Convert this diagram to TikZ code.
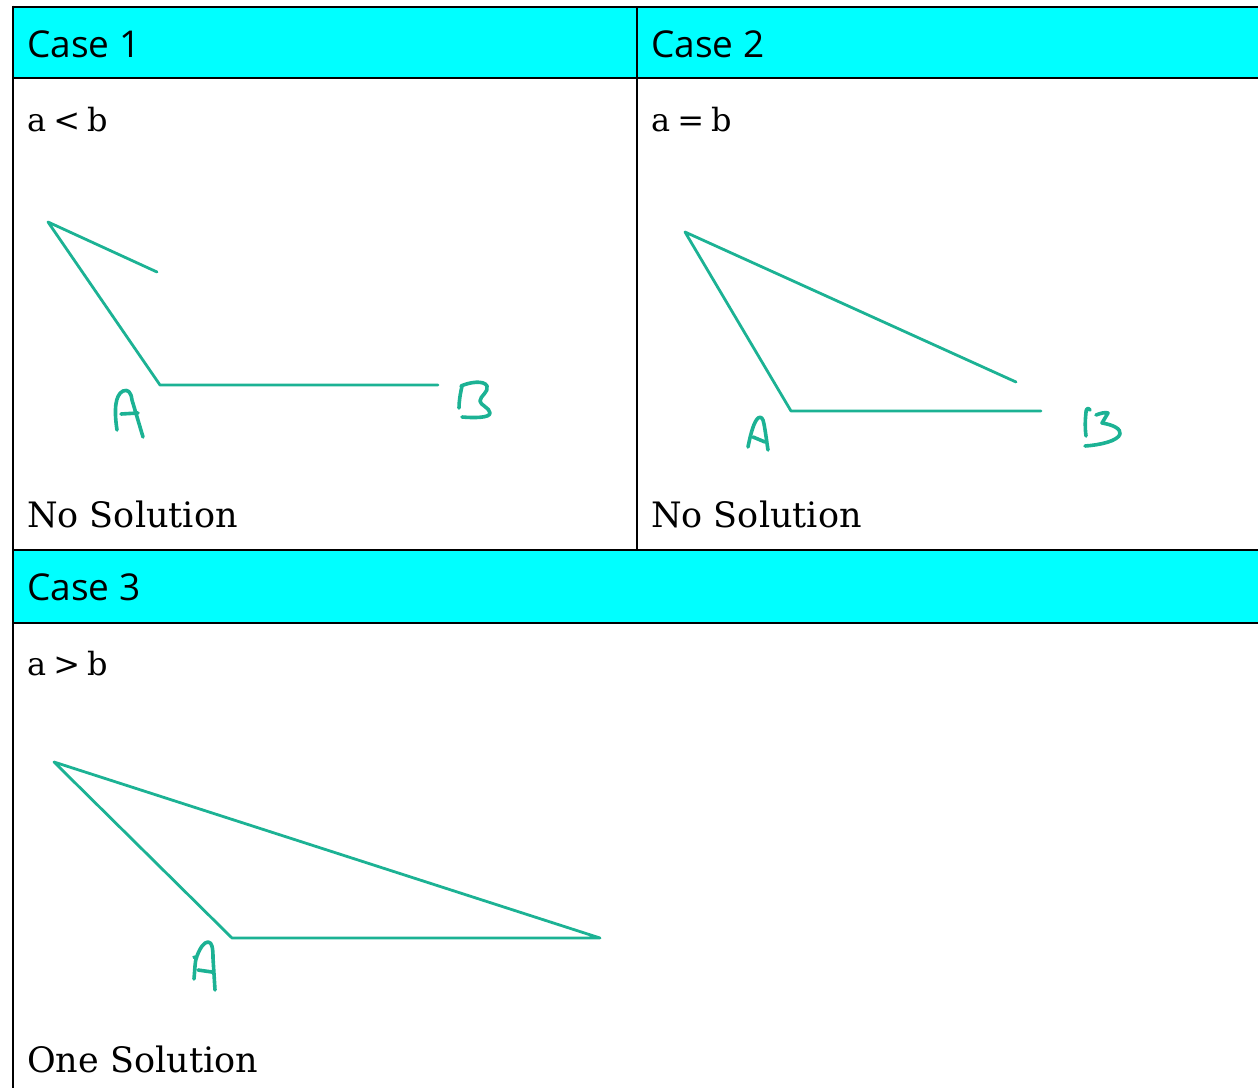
\documentclass[tikz,border=0pt]{standalone}
\usepackage{fontspec}
\setmainfont{DejaVu Serif}
\newfontfamily\headfont{Open Sans}
\definecolor{headcyan}{RGB}{0,255,255}
\definecolor{penteal}{RGB}{28,178,148}
\tikzset{
  grid/.style={draw=black, line width=2.9pt},
  head/.style={fill=headcyan},
  headtxt/.style={anchor=base west, inner sep=0pt, font=\headfont\fontsize{37}{40}\selectfont},
  bodytxt/.style={anchor=base west, inner sep=0pt, font=\fontsize{32}{36}\selectfont},
  soltxt/.style={anchor=base west, inner sep=0pt, font=\fontsize{35}{40}\selectfont},
  tri/.style={draw=penteal, line width=2.8pt, line join=round, line cap=round},
  hand/.style={draw=penteal, line width=3.6pt, line join=round, line cap=round}
}
\begin{document}
\begin{tikzpicture}[x=1pt,y=-1pt]
\useasboundingbox (0,0) rectangle (1258,1087);
% headers
\fill[head] (13,7) rectangle (1262,78);
\fill[head] (13,550) rectangle (1262,623);
\draw[grid] (13,7) -- (1262,7);
\draw[grid] (13,78) -- (1262,78);
\draw[grid] (13,550) -- (1262,550);
\draw[grid] (13,623) -- (1262,623);
\draw[grid] (13,5.6) -- (13,1092);
\draw[grid] (637,7) -- (637,550);
% texts
\node[headtxt] (c1) at (27,57) {Case 1};
\node[headtxt] (c2) at (651,57) {Case 2};
\node[headtxt] (c3) at (27,600) {Case 3};
\node[bodytxt] (r1) at (27,131) {a\hspace{0.22em}<\hspace{0.22em}b};
\node[bodytxt] (r2) at (651,131) {a\hspace{0.22em}=\hspace{0.22em}b};
\node[bodytxt] (r3) at (27,675) {a\hspace{0.22em}>\hspace{0.22em}b};
\node[soltxt] (s1) at (27,527) {No Solution};
\node[soltxt] (s2) at (651,527) {No Solution};
\node[soltxt] (s3) at (27,1072) {One Solution};
% case 1 triangle
\coordinate (t1c) at (48,222);
\coordinate (t1a) at (160,385);
\coordinate (t1b) at (438,385);
\coordinate (t1e) at (157,272);
\draw[tri] (t1e) -- (t1c) -- (t1a) -- (t1b);
% case 2 triangle
\coordinate (t2c) at (685,232);
\coordinate (t2a) at (791,411);
\coordinate (t2b) at (1041,411);
\coordinate (t2e) at (1016,382);
\draw[tri] (t2e) -- (t2c) -- (t2a) -- (t2b);
% case 3 triangle
\coordinate (t3c) at (54,762);
\coordinate (t3a) at (232,938);
\coordinate (t3b) at (600,938);
\draw[tri] (t3c) -- (t3a) -- (t3b) -- cycle;
% handwritten A (case 1)
\draw[hand] (117,430) .. controls (114,410) and (115,395) .. (123,391) .. controls (128,389) and (131,392) .. (132,400) -- (143,437);
\draw[hand] (121,414) -- (138,413);
% handwritten B (case 1)
\draw[hand] (462,386) .. controls (460,395) and (459,402) .. (459,408);
\draw[hand] (461,386) .. controls (470,382) and (484,380) .. (487,386) .. controls (489,392) and (480,396) .. (480,401) .. controls (480,405) and (490,408) .. (490,413) .. controls (490,418) and (474,418) .. (462,417);
% handwritten A (case 2)
\draw[hand] (748,447) .. controls (751,432) and (754,422) .. (758,418) .. controls (761,416) and (763,418) .. (764,424) .. controls (766,435) and (767,444) .. (768,450);
\draw[hand] (753,437) -- (765,442);
% handwritten B (case 2)
\draw[hand] (1090,410) .. controls (1088,407) and (1086,409) .. (1086,412) .. controls (1085,422) and (1085,428) .. (1086,436);
\draw[hand] (1096,415) .. controls (1101,413) and (1106,412) .. (1108,413) -- (1102,423) .. controls (1114,425) and (1121,429) .. (1120,434) .. controls (1118,441) and (1100,445) .. (1085,446);
% handwritten A (case 3)
\draw[hand] (194,979) .. controls (195,968) and (195,960) .. (197,956) .. controls (200,948) and (204,942) .. (208,942) .. controls (212,942) and (213,948) .. (213,958) -- (215,990);
\draw[hand] (194,957) -- (196,958);
\draw[hand] (198,970) -- (212,972);
\end{tikzpicture}
\end{document}
